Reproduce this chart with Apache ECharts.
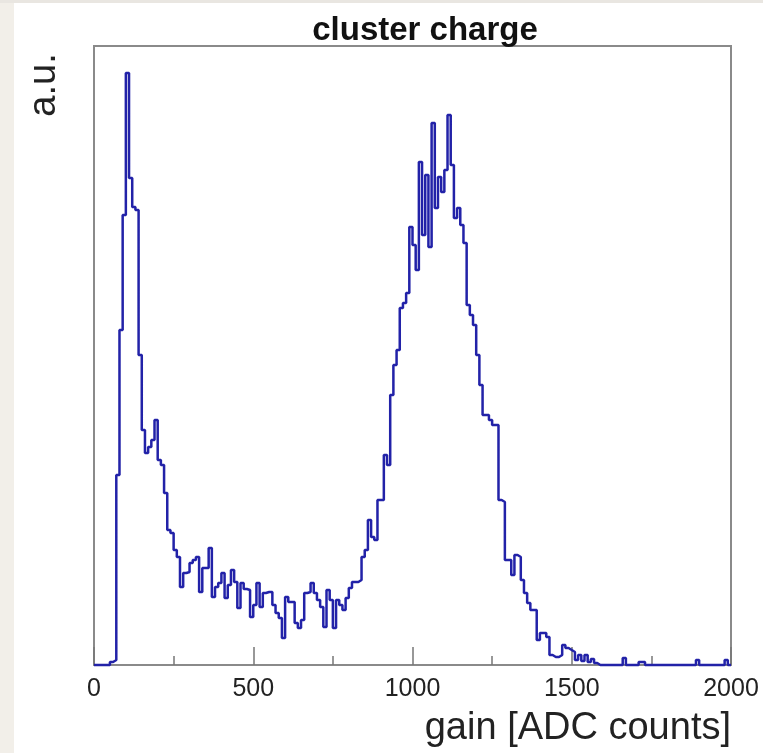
<!DOCTYPE html>
<html>
<head>
<meta charset="utf-8">
<title>cluster charge</title>
<script src="https://cdn.jsdelivr.net/npm/echarts@6/dist/echarts.min.js"></script>
<style>
	html, body { margin: 0; padding: 0; background: #fff; }
	#main { width: 763px; height: 753px; }
</style>
</head>
<body>
<div id="main"></div>
<script>
// histogram: 200 bins of 10 ADC counts, 0 - 2000
var binLow = 0;
var binWidth = 10;
var xTicks = [0, 500, 1000, 1500, 2000];

// bin contents, a.u.
var countsPedestal = [
	0, 0, 0, 0, 0, 3, 5, 190, 335, 450,
	592, 487, 458, 455, 310, 235, 212, 218, 225, 245,
	205, 200, 172, 135, 132, 115, 108, 78, 92, 93,
	102, 105, 108, 73, 97, 97, 117, 68, 78, 82,
	92, 67, 80, 95, 83, 57, 82, 76, 75, 48,
	60, 82, 58, 72, 73, 73, 60, 52, 47, 27,
	68, 63, 63, 42, 37, 45, 72, 73, 82, 72,
	65, 58, 38, 75, 65, 37, 65, 60, 55, 67,
	77, 83, 83, 85, 108, 115, 145, 128, 125, 165
];
var countsSignal = [
	165, 210, 200, 270, 300, 315, 357, 362, 372, 438,
	420, 395, 503, 430, 490, 418, 542, 457, 488, 473,
	495, 550, 500, 447, 457, 440, 422, 360, 350, 340,
	310, 280, 250, 250, 245, 240, 240, 165, 163, 105,
	105, 90, 110, 108, 85, 72, 62, 55, 55, 25,
	32, 32, 28, 10, 8, 8, 10, 20, 17, 15,
	13, 5, 10, 4, 10, 3, 6, 2, 0, 0,
	0, 0, 0, 0, 0, 0, 7, 0, 0, 0,
	0, 3, 3, 0, 0, 0, 0, 0, 0, 0,
	0, 0, 0, 0, 0, 0, 0, 0, 0, 5,
	0, 0, 0, 0, 0, 0, 0, 0, 5, 0
];
var yMax = 619;

var fontName = '"Liberation Sans", Arial, Helvetica, sans-serif';

init();

function init(){
	var myChart = echarts.init(document.getElementById('main'));

	var counts = countsPedestal.concat(countsSignal);
	var steps = [];
	for (var i = 0; i < counts.length; i++) {
		steps.push([binLow + i * binWidth, counts[i]]);
	}
	// close last bin
	steps.push([binLow + counts.length * binWidth, counts[counts.length - 1]]);

	var option = {
		backgroundColor: '#fff',
		animation: false,
		title: {
			text: 'cluster charge',
			left: 420,
			top: 9,
			textAlign: 'center',
			textStyle: {
				fontFamily: fontName,
				fontSize: 33,
				fontWeight: 'bold',
				color: '#111'
			}
		},
		grid: {
			left: 94,
			right: 32,
			top: 46,
			bottom: 88,
			show: true,
			borderColor: '#8a8a8a',
			borderWidth: 2,
			backgroundColor: '#fff'
		},
		xAxis: {
			type: 'value',
			min: xTicks[0],
			max: xTicks[xTicks.length - 1],
			interval: 500,
			axisLine: { show: true, lineStyle: { color: '#8a8a8a', width: 2 } },
			axisTick: { show: true, inside: true, length: 18, lineStyle: { color: '#777', width: 1.5 } },
			minorTick: { show: true, splitNumber: 2, length: 9, lineStyle: { color: '#777', width: 1.5 } },
			splitLine: { show: false },
			axisLabel: {
				margin: 12,
				fontFamily: fontName,
				fontSize: 25,
				color: '#222',
				showMaxLabel: true,
				showMinLabel: true,
				formatter: function(v){ return String(v); }
			}
		},
		yAxis: {
			type: 'value',
			min: 0,
			max: yMax,
			axisLine: { show: false },
			axisTick: { show: false },
			axisLabel: { show: false },
			splitLine: { show: false }
		},
		graphic: [
			//左侧灰边
			{ type: 'rect', left: 0, top: 0, shape: { width: 14, height: 753 }, style: { fill: '#f2efe9' } },
			{ type: 'rect', left: 0, top: 0, shape: { width: 763, height: 3 }, style: { fill: '#e9e6e1' } },
			{
				type: 'text',
				x: 45, y: 85,
				rotation: Math.PI / 2,
				style: {
					text: 'a.u.',
					font: '38px ' + fontName,
					fill: '#222',
					align: 'center',
					verticalAlign: 'middle'
				}
			},
			{
				type: 'text',
				x: 731, y: 729,
				style: {
					text: 'gain [ADC counts]',
					font: '38px ' + fontName,
					fill: '#222',
					align: 'right',
					verticalAlign: 'middle'
				}
			}
		],
		series: [{
			name: 'cluster charge',
			type: 'line',
			step: 'end',
			data: steps,
			symbol: 'none',
			clip: false,
			lineStyle: { color: '#2222a8', width: 2.5 }
		}]
	};

	myChart.setOption(option);
}
</script>
</body>
</html>
